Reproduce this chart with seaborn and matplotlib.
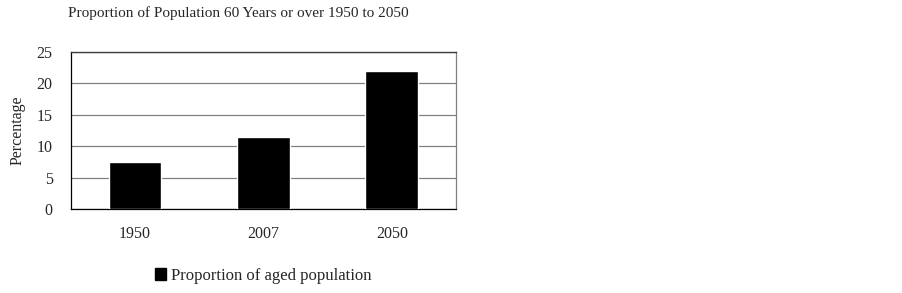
import numpy as np
import pandas as pd
import seaborn as sns
import matplotlib.pyplot as plt
from matplotlib.patches import Patch

# Data
years = ["1950", "2007", "2050"]
proportion = [7.5, 11.5, 22.0]
series_name = "Proportion of aged population"

df = pd.DataFrame({"Year": years, "Value": proportion})

sns.set_style("white")
plt.rcParams['font.family'] = ['Liberation Serif', 'DejaVu Serif']

fig = plt.figure(figsize=(9.02, 2.93), dpi=100)
ax = fig.add_axes([0.0784, 0.2867, 0.4271, 0.5368])

sns.barplot(data=df, x="Year", y="Value", color="black", width=0.41,
            saturation=1, ax=ax, zorder=3)

ax.set_ylim(0, 25)
ax.set_xlim(-0.5, 2.5)
ax.set_yticks(np.arange(0, 26, 5))
ax.yaxis.grid(True, color="#808080", linewidth=0.9, zorder=0)
ax.set_axisbelow(True)

# category boundary ticks on x axis
ax.set_xticks([-0.5, 0.5, 1.5, 2.5], minor=False)
ax.set_xticklabels([])
ax.set_xticks([0, 1, 2], minor=True)
ax.set_xticklabels(years, minor=True, fontsize=11.5)
ax.tick_params(axis="x", which="major", direction="out", length=5, width=0.8, color="black")
ax.tick_params(axis="x", which="minor", length=0, pad=12)
ax.tick_params(axis="y", direction="out", length=5, width=0.8, color="black", labelsize=11.5, pad=8)

for side in ["left", "bottom"]:
    ax.spines[side].set_color("black")
    ax.spines[side].set_linewidth(0.9)
ax.spines["top"].set_color("#404040")
ax.spines["top"].set_linewidth(1.0)
ax.spines["right"].set_color("#808080")
ax.spines["right"].set_linewidth(0.9)

ax.set_xlabel("")
ax.set_ylabel("Percentage", fontsize=11.5, labelpad=8)

fig.text(0.075, 0.955, "Proportion of Population 60 Years or over 1950 to 2050",
         fontsize=11, ha="left", va="center")

handles = [Patch(facecolor="black", edgecolor="black", label=series_name)]
fig.legend(handles=handles, loc="center", bbox_to_anchor=(0.292, 0.058), frameon=False,
           fontsize=12, handlelength=0.7, handleheight=0.7, handletextpad=0.3)

fig.savefig("out.png", dpi=100, facecolor="white")
